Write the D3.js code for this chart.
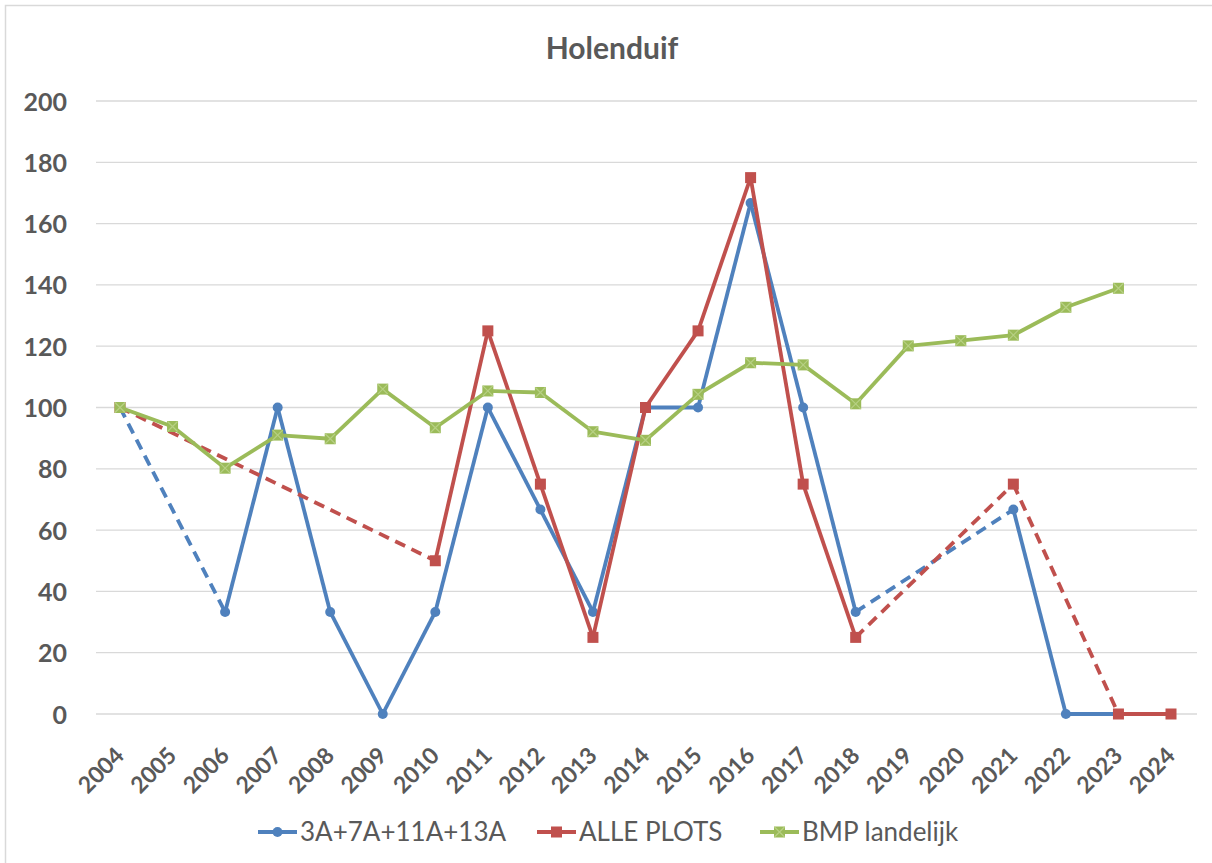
<!DOCTYPE html>
<html><head><meta charset="utf-8">
<script src="https://cdn.jsdelivr.net/npm/d3@7"></script>
<style>body{margin:0;background:#fff}svg{display:block}</style>
</head><body>
<script>
const years = d3.range(2004, 2025);
const seriesNames = ["3A+7A+11A+13A", "ALLE PLOTS", "BMP landelijk"];
const blueVals = [100, null, 33.3, 100, 33.3, 0, 33.3, 100, 66.7, 33.3, 100, 100, 166.7, 100, 33.3, null, null, 66.7, 0, 0, null];
const redVals  = [100, null, null, null, null, null, 50, 125, 75, 25, 100, 125, 175, 75, 25, null, null, 75, null, 0, 0];
const greenVals = [100, 93.8, 80.2, 91, 89.8, 106, 93.4, 105.4, 104.9, 92.1, 89.3, 104.3, 114.6, 113.9, 101.2, 120.1, 121.8, 123.6, 132.7, 138.9, null];
const yTicks = [0, 20, 40, 60, 80, 100, 120, 140, 160, 180, 200];
const colors = ["#4F81BD", "#C0504D", "#9BBB59"];
const markers = ["circle", "square", "starsq"];

const W = 1212, H = 863;
const svg = d3.select("body").append("svg").attr("width", W).attr("height", H);
const font = "Lato, 'Open Sans', sans-serif";
const txt = "#595959";

svg.append("rect").attr("x", 5.5).attr("y", 5.5).attr("width", W + 10).attr("height", H + 10)
  .attr("fill", "none").attr("stroke", "#d9d9d9").attr("stroke-width", 1.5);

const x = d3.scaleLinear().domain([2004, 2024]).range([120, 1171]);
const y = d3.scaleLinear().domain([0, 200]).range([714, 101]);

// gridlines
svg.append("g").selectAll("line").data(yTicks).join("line")
  .attr("x1", 96).attr("x2", 1197)
  .attr("y1", d => y(d)).attr("y2", d => y(d))
  .attr("stroke", "#d9d9d9").attr("stroke-width", 1.3);

// y axis labels
const yAxis = d3.axisLeft(y).tickValues(yTicks).tickSize(0).tickPadding(0);
const yg = svg.append("g").attr("transform", "translate(67,0)").call(yAxis);
yg.select(".domain").remove();
yg.selectAll("text").attr("font-family", font).attr("font-weight", "bold")
  .attr("font-size", 25).attr("fill", txt).attr("dy", "0.36em");

// x axis labels
const xAxis = d3.axisBottom(x).tickValues(years).tickFormat(d3.format("d")).tickSize(0).tickPadding(0);
const xg = svg.append("g").attr("transform", "translate(0,714)").call(xAxis);
xg.select(".domain").remove();
xg.selectAll("text")
  .attr("font-family", font).attr("font-weight", "bold").attr("font-size", 23).attr("fill", txt)
  .attr("text-anchor", "end").attr("dy", 0).attr("y", 0)
  .attr("transform", "translate(5,43) rotate(-45)");

// title
svg.append("text").attr("x", 612).attr("y", 59).attr("text-anchor", "middle")
  .attr("font-family", font).attr("font-weight", "bold").attr("font-size", 30).attr("fill", txt)
  .text("Holenduif");

const allVals = [blueVals, redVals, greenVals];
const line = d3.line().x(d => x(d.year)).y(d => y(d.v));

function drawMarker(g, type, cx, cy, color) {
  if (type === "circle") {
    g.append("circle").attr("cx", cx).attr("cy", cy).attr("r", 5).attr("fill", color);
  } else if (type === "square") {
    g.append("rect").attr("x", cx - 5.5).attr("y", cy - 5.5).attr("width", 11).attr("height", 11).attr("fill", color);
  } else {
    g.append("rect").attr("x", cx - 5.5).attr("y", cy - 5.5).attr("width", 11).attr("height", 11).attr("fill", color);
    g.append("path").attr("d", `M${cx-5},${cy-5}L${cx+5},${cy+5}M${cx+5},${cy-5}L${cx-5},${cy+5}`)
      .attr("stroke", "#b7d084").attr("stroke-width", 1.2);
  }
}

allVals.forEach((vals, si) => {
  const pts = years.map((yr, i) => ({year: yr, v: vals[i]})).filter(d => d.v !== null);
  const g = svg.append("g");
  for (let i = 0; i < pts.length - 1; i++) {
    const a = pts[i], b = pts[i + 1];
    const gap = b.year - a.year > 1;
    g.append("path").attr("d", line([a, b])).attr("fill", "none")
      .attr("stroke", colors[si]).attr("stroke-width", 3.8)
      .attr("stroke-linejoin", "round")
      .attr("stroke-dasharray", gap ? "11,7" : null);
  }
  pts.forEach(p => drawMarker(g, markers[si], x(p.year), y(p.v), colors[si]));
});

// legend
const legX = [258, 537, 760];
seriesNames.forEach((name, i) => {
  const g = svg.append("g");
  g.append("line").attr("x1", legX[i]).attr("x2", legX[i] + 39).attr("y1", 832).attr("y2", 832)
    .attr("stroke", colors[i]).attr("stroke-width", 3.8);
  drawMarker(g, markers[i], legX[i] + 19.5, 832, colors[i]);
  g.append("text").attr("x", legX[i] + 42).attr("y", 832).attr("dy", "0.36em")
    .attr("font-family", font).attr("font-size", 26).attr("fill", txt).text(name);
});
</script>
</body></html>
